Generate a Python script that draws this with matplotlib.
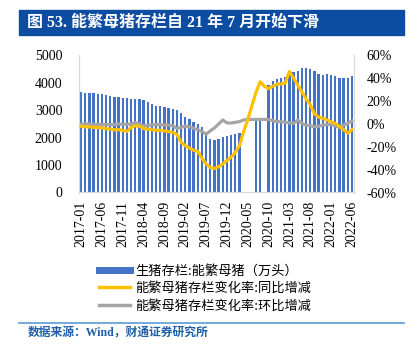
import numpy as np
import matplotlib.pyplot as plt
from matplotlib.lines import Line2D
from matplotlib.patches import Rectangle

plt.rcParams['font.family'] = ['Noto Sans CJK SC', 'DejaVu Sans']

# 月份 2017-01 ... 2022-06
months = [f'{y}-{m:02d}' for y in range(2017, 2023) for m in range(1, 13)][:66]

# 能繁母猪存栏（万头），缺失月份为 nan
sows = [3656, 3644, 3644, 3631, 3595, 3583, 3546, 3510, 3485, 3485, 3461, 3437,
        3425, 3425, 3425, 3376, 3291, 3242, 3169, 3145, 3120, 3084, 3047, 3011,
        2914, 2768, 2671, 2585, 2500, 2403, 2160, 1941, 1916, 1941, 2038, 2062,
        2087, 2123, 2184, np.nan, np.nan, np.nan, 2620, 2640, np.nan, 3923,
        4069, 4142, 4191, 4215, 4350, 4410, 4434, 4556, 4532, 4495, 4446, 4337,
        4288, 4313, 4288, 4240, 4167, 4167, 4179, 4264]

# 同比增减（%）
yoy = [-2, -2.5, -2.5, -3, -3, -3.5, -4, -4.5, -5, -5, -5.5, -6.5,
       -3, -1.5, -2, -4, -4.5, -5, -5.5, -5.5, -6, -6.5, -7.5, -9,
       -16, -19, -21, -23, -24, -30, -35, -38, -39, -37.5, -35, -32,
       -29, -25, -19, -7, 4, 16, 28, 37, 33, 31, 33, 35,
       35, 36, 46, 40, 34, 28, 22, 17, 9, 6, 5, 3.5,
       2, 0.5, -2, -5, -8, -5]

# 环比增减（%）
mom = [-0.3, 0.2, 0.0, -0.5, -0.3, -0.4, -0.5, -0.6, -0.4, 0.0, -0.4, -0.3,
       0.0, 1.2, 0.2, -1.5, -1.0, -1.0, -0.5, -0.5, -1.0, -1.0, -1.5, -3.8,
       -3.0, -1.8, -2.5, -3.8, -5.0, -6.5, -9.0, -6.0, -3.5, 0.0, 3.5, 1.0,
       0.8, 1.5, 2.0, 3.5, 4.0, 4.0, 4.0, 4.0, 4.0, 4.0, 3.0, 2.0,
       2.0, 1.5, 1.0, 0.6, 3.5, 0.5, -1.0, -1.5, -2.4, -2.0, -1.0, -0.5,
       -0.3, -1.5, -3.2, -1.0, 0.6, 2.6]

blue = '#4472C4'
yellow = '#FFC000'
grey = '#A5A5A5'
serif = ['Liberation Serif', 'DejaVu Serif']
mixed = ['Liberation Serif', 'Noto Sans CJK SC']

fig = plt.figure(figsize=(4.15, 3.54), dpi=100)

# 标题栏
fig.patches.append(Rectangle((19 / 415, 1 - 35 / 354), 385 / 415, 25 / 354,
                             transform=fig.transFigure, color='#0C4DA2', zorder=0))
fig.text(27 / 415, 1 - 22.5 / 354, '图 53. 能繁母猪存栏自 21 年 7 月开始下滑',
         color='white', fontsize=11.5, fontweight='bold', va='center', ha='left',
         family=mixed)

ax = fig.add_axes([79 / 415, 1 - 192.5 / 354, 275 / 415, 137 / 354])
x = np.arange(len(months))
ax.bar(x, sows, width=0.55, color=blue, zorder=1)
ax.set_xlim(-0.5, len(months) - 0.5)
ax.set_ylim(0, 5000)
ax.set_yticks(range(0, 5001, 1000))
ax.set_xticks(x[::5])
ax.set_xticklabels(months[::5], rotation=90, family=serif, fontsize=10)
for lab in ax.get_yticklabels():
    lab.set_family(serif)
    lab.set_fontsize(10)
ax.tick_params(axis='x', length=0, pad=6)
ax.tick_params(axis='y', length=0, pad=12)

ax2 = ax.twinx()
ax2.plot(x, yoy, color=yellow, lw=2.3, solid_joinstyle='round', zorder=3)
ax2.plot(x, mom, color=grey, lw=2.3, solid_joinstyle='round', zorder=2)
ax2.set_ylim(-60, 60)
ax2.set_yticks(range(-60, 61, 20))
ax2.set_yticklabels([f'{v}%' for v in range(-60, 61, 20)], family=serif, fontsize=10)
ax2.tick_params(axis='y', length=0, pad=9)

for a in (ax, ax2):
    a.spines['top'].set_visible(False)
    a.spines['left'].set_color('#D9D9D9')
    a.spines['right'].set_color('#D9D9D9')
    a.spines['bottom'].set_color('#D9D9D9')

handles = [Line2D([], [], color=blue, lw=5),
           Line2D([], [], color=yellow, lw=2.5),
           Line2D([], [], color=grey, lw=2.5)]
labels = ['生猪存栏:能繁母猪（万头）', '能繁母猪存栏变化率:同比增减', '能繁母猪存栏变化率:环比增减']
fig.legend(handles, labels, loc='upper left', bbox_to_anchor=(94 / 415, 1 - 259 / 354),
           frameon=False, fontsize=9.5, handlelength=2.3, handletextpad=0.4,
           labelspacing=0.35, borderaxespad=0)

# 底部分隔线与数据来源
fig.add_artist(Line2D([19 / 415, 404 / 415], [1 - 323 / 354, 1 - 323 / 354],
                      transform=fig.transFigure, color='#5B9BD5', lw=1.2))
fig.text(28 / 415, 1 - 334 / 354, '数据来源：Wind，财通证券研究所', color='#1F5FA8',
         fontsize=8.5, fontweight='bold', va='center', ha='left', family=mixed)

fig.savefig('out.png', dpi=100)
